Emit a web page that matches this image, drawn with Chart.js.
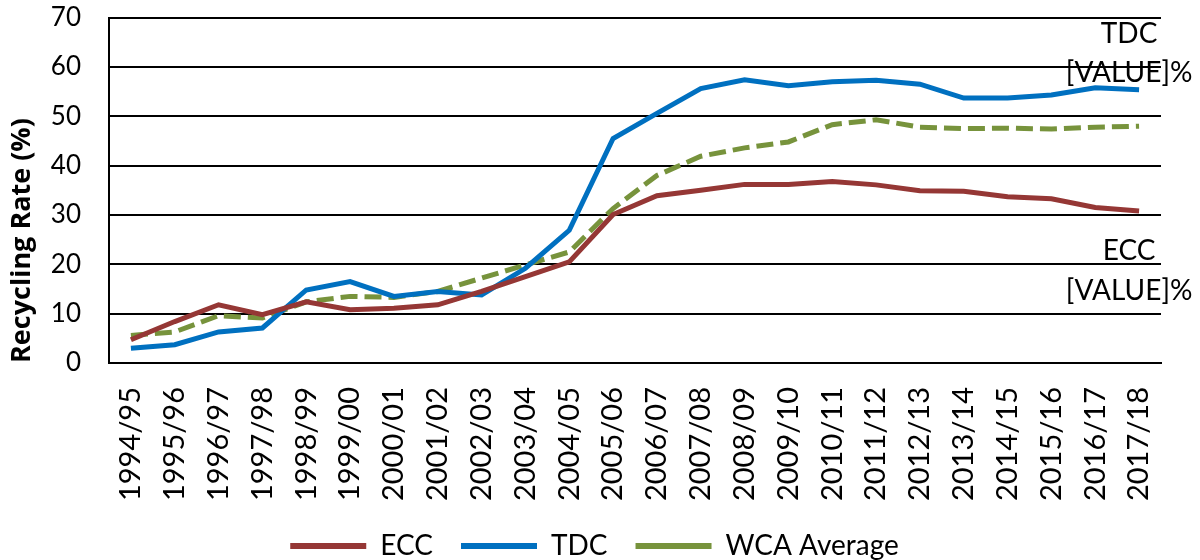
<!DOCTYPE html>
<html lang="en">
<head>
<meta charset="UTF-8">
<title>Recycling Rate</title>
<script src="https://cdn.jsdelivr.net/npm/chart.js"></script>
<style>
  body { margin: 0; background: #fff; }
  .wrap { width: 1200px; height: 560px; }
</style>
</head>
<body>
<div class="wrap"><canvas id="chart" width="1200" height="560"></canvas></div>
<script>
const years = ['1994/95','1995/96','1996/97','1997/98','1998/99','1999/00','2000/01','2001/02',
  '2002/03','2003/04','2004/05','2005/06','2006/07','2007/08','2008/09','2009/10','2010/11',
  '2011/12','2012/13','2013/14','2014/15','2015/16','2016/17','2017/18'];
const ecc = [4.7, 8.4, 11.8, 9.8, 12.4, 10.8, 11.1, 11.8, 14.5, 17.5, 20.5, 30.1,
  33.9, 35.0, 36.2, 36.2, 36.8, 36.1, 34.9, 34.8, 33.7, 33.3, 31.5, 30.8];
const tdc = [3.0, 3.7, 6.3, 7.1, 14.8, 16.5, 13.5, 14.5, 13.8, 19.2, 26.9, 45.5,
  50.6, 55.6, 57.4, 56.2, 57.0, 57.3, 56.5, 53.7, 53.7, 54.3, 55.8, 55.4];
const wca = [5.6, 6.3, 9.6, 9.1, 12.4, 13.5, 13.3, 14.5, 17.2, 19.9, 22.5, 31.3,
  38.0, 41.9, 43.6, 44.8, 48.3, 49.3, 47.8, 47.5, 47.6, 47.4, 47.8, 48.0];
const yTicks = [0, 10, 20, 30, 40, 50, 60, 70];

const FONT = 'Lato, "Open Sans", sans-serif';

// "[VALUE]%" labels sitting next to the last point of ECC and TDC
const endLabels = {
  id: 'endLabels',
  afterInit(chart) {
    // keep the legend short and nudge it right a bit
    const lg = chart.legend;
    const fit = lg.fit.bind(lg);
    lg.fit = function () { fit(); this.height = 56; };
    const draw = lg.draw.bind(lg);
    lg.draw = function () {
      chart.ctx.save();
      chart.ctx.translate(14, 0);
      draw();
      chart.ctx.restore();
    };
  },
  afterDatasetsDraw(chart) {
    const ctx = chart.ctx;
    ctx.save();
    ctx.font = '28px ' + FONT;
    ctx.fillStyle = '#000';
    ctx.textAlign = 'center';
    ctx.textBaseline = 'middle';
    const spots = [
      { ds: 1, text: ['TDC', '[VALUE]%'], dy: [-56, -17] },
      { ds: 0, text: ['ECC', '[VALUE]%'], dy: [40, 80] }
    ];
    spots.forEach(s => {
      const pts = chart.getDatasetMeta(s.ds).data;
      const p = pts[pts.length - 1];
      s.text.forEach((t, i) => ctx.fillText(t, p.x - 10, p.y + s.dy[i]));
    });
    ctx.restore();
  }
};

new Chart(document.getElementById('chart'), {
  type: 'line',
  data: {
    labels: years,
    datasets: [
      { label: 'ECC', data: ecc, borderColor: '#953735', backgroundColor: '#953735', borderWidth: 5, pointRadius: 0, tension: 0 },
      { label: 'TDC', data: tdc, borderColor: '#0070C0', backgroundColor: '#0070C0', borderWidth: 5, pointRadius: 0, tension: 0 },
      { label: 'WCA Average', data: wca, borderColor: '#77933C', backgroundColor: '#77933C', borderWidth: 5, borderDash: [17, 7], pointRadius: 0, tension: 0 }
    ]
  },
  options: {
    responsive: false,
    animation: false,
    layout: { padding: { top: 2, right: 39, left: 0, bottom: 0 } },
    plugins: {
      legend: {
        position: 'bottom',
        labels: {
          font: { family: FONT, size: 28 },
          color: '#000',
          boxWidth: 76,
          boxHeight: 0,
          padding: 28,
          generateLabels(chart) {
            return chart.data.datasets.map((d, i) => ({
              text: d.label,
              strokeStyle: d.borderColor,
              fillStyle: d.borderColor,
              lineWidth: 6,
              lineDash: d.borderDash || [],
              datasetIndex: i
            }));
          }
        }
      },
      tooltip: { enabled: false }
    },
    scales: {
      x: {
        offset: true,
        grid: { display: false, drawTicks: false },
        border: { color: '#000', width: 2 },
        ticks: {
          color: '#000',
          font: { family: FONT, size: 29 },
          minRotation: 90,
          maxRotation: 90,
          padding: 24,
          autoSkip: false
        },
        afterFit(scale) { scale.height = 141; }
      },
      y: {
        min: 0,
        max: 70,
        afterBuildTicks(scale) { scale.ticks = yTicks.map(v => ({ value: v })); },
        grid: { color: '#000', lineWidth: 2, drawTicks: true, tickLength: 26, tickColor: 'rgba(0,0,0,0)' },
        border: { color: '#000', width: 2 },
        ticks: { color: '#000', font: { family: FONT, size: 26 }, padding: 2 },
        title: {
          display: true,
          align: 'start',
          text: 'Recycling Rate (%)',
          color: '#000',
          font: { family: '"Open Sans", sans-serif', size: 27, weight: 'bold' },
          padding: { top: 6, bottom: 0 }
        },
        afterFit(scale) { scale.width = 109; }
      }
    }
  },
  plugins: [endLabels]
});
</script>
</body>
</html>
